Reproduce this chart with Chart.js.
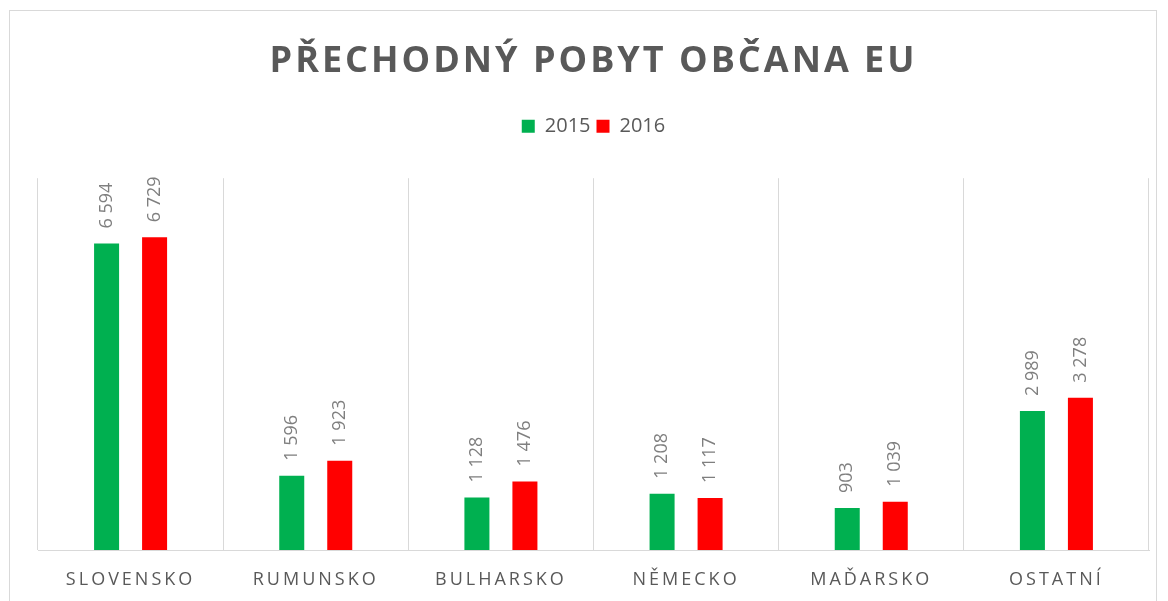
<!DOCTYPE html>
<html>
<head>
<meta charset="utf-8">
<script src="https://cdn.jsdelivr.net/npm/chart.js@4/dist/chart.umd.min.js"></script>
<style>
  html, body { margin: 0; padding: 0; background: #ffffff; }
  #wrap { position: relative; width: 1168px; height: 601px; overflow: hidden; }
  #frame { position: absolute; left: 9px; top: 10px; width: 1148px; height: 640px; border: 1px solid #d9d9d9; box-sizing: border-box; }
  canvas { position: absolute; left: 0; top: 0; }
</style>
</head>
<body>
<div id="wrap">
  <div id="frame"></div>
  <canvas id="c" width="1168" height="601"></canvas>
</div>
<script>
const categories = ['SLOVENSKO', 'RUMUNSKO', 'BULHARSKO', 'NĚMECKO', 'MAĎARSKO', 'OSTATNÍ'];
const seriesNames = ['2015', '2016'];
const values2015 = [6594, 1596, 1128, 1208, 903, 2989];
const values2016 = [6729, 1923, 1476, 1117, 1039, 3278];
const titleText = 'PŘECHODNÝ POBYT OBČANA EU';

const fmt = v => String(v).replace(/\B(?=(\d{3})+(?!\d))/g, ' ');

const spacingPlugin = {
  id: 'spacing',
  beforeDraw(chart) {
    const s = chart.scales.x;
    if (s && !s._lsPatched) {
      const orig = s.drawLabels.bind(s);
      s.drawLabels = function (area) {
        const ctx = this.ctx;
        const prev = ctx.letterSpacing;
        ctx.letterSpacing = '3px';
        orig(area);
        ctx.letterSpacing = prev;
      };
      s._lsPatched = true;
    }
    const t = chart.titleBlock;
    if (t && !t._lsPatched) {
      const origT = t.draw.bind(t);
      t.draw = function () {
        const ctx = this.ctx;
        const prev = ctx.letterSpacing;
        ctx.letterSpacing = '3px';
        origT();
        ctx.letterSpacing = prev;
      };
      t._lsPatched = true;
    }
  }
};

const labelPlugin = {
  id: 'barLabels',
  afterDatasetsDraw(chart) {
    const ctx = chart.ctx;
    chart.data.datasets.forEach((ds, i) => {
      const meta = chart.getDatasetMeta(i);
      meta.data.forEach((bar, j) => {
        ctx.save();
        ctx.letterSpacing = '0px';
        ctx.translate(bar.x, bar.y - 15);
        ctx.rotate(-Math.PI / 2);
        ctx.font = '18px "Open Sans"';
        ctx.fillStyle = '#7f7f7f';
        ctx.textAlign = 'left';
        ctx.textBaseline = 'middle';
        ctx.fillText(fmt(ds.data[j]), 0, 0);
        ctx.restore();
      });
    });
  }
};

new Chart(document.getElementById('c'), {
  type: 'bar',
  data: {
    labels: categories,
    datasets: [
      { label: seriesNames[0], data: values2015, backgroundColor: '#00b050', categoryPercentage: 0.5185, barPercentage: 0.521 },
      { label: seriesNames[1], data: values2016, backgroundColor: '#ff0000', categoryPercentage: 0.5185, barPercentage: 0.521 }
    ]
  },
  options: {
    responsive: false,
    animation: false,
    layout: { padding: { left: 38, right: 19, top: 0, bottom: 12 } },
    plugins: {
      title: {
        display: true,
        text: titleText,
        color: '#595959',
        font: { family: '"Open Sans"', size: 36, weight: 'bold', lineHeight: 1.2 },
        padding: { top: 40, bottom: 27 }
      },
      legend: {
        display: true,
        labels: {
          boxWidth: 13,
          boxHeight: 13,
          padding: 6,
          color: '#595959',
          font: { family: '"Open Sans"', size: 20 }
        }
      },
      tooltip: { enabled: false }
    },
    scales: {
      x: {
        grid: { display: true, offset: true, color: '#d9d9d9', drawTicks: false },
        border: { display: true, color: '#d9d9d9' },
        ticks: { color: '#595959', padding: 19, font: { family: '"Open Sans"', size: 18 } },
        afterFit: (scale) => { scale.height = 39; }
      },
      xTop: {
        type: 'category',
        labels: categories,
        position: 'top',
        grid: { display: false },
        border: { display: false },
        ticks: { display: false },
        afterFit: (scale) => { scale.height = 32; }
      },
      y: {
        display: false,
        min: 0,
        max: 8000
      }
    }
  },
  plugins: [spacingPlugin, labelPlugin]
});
</script>
</body>
</html>
